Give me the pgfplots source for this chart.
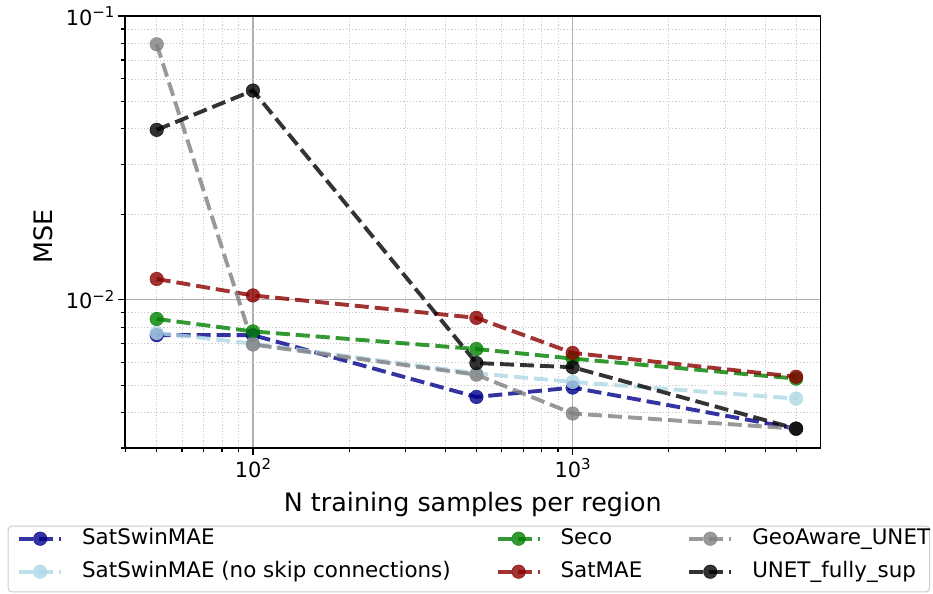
\documentclass[border=0pt]{standalone}
\usepackage{fontspec}
\setmainfont{DejaVu Sans}
\usepackage{pgfplots}
\pgfplotsset{compat=1.18}
\definecolor{cdb}{HTML}{00008B}
\definecolor{clb}{HTML}{ADD8E6}
\definecolor{cgr}{HTML}{008000}
\definecolor{cdr}{HTML}{8B0000}
\definecolor{cgy}{HTML}{808080}
\definecolor{cbk}{HTML}{000000}
\definecolor{gridmaj}{HTML}{B0B0B0}
\definecolor{legframe}{HTML}{CCCCCC}
\pgfplotsset{
  ser/.style={color=#1, opacity=0.8, line width=3.9bp, dash pattern=on 14bp off 6bp,
    mark=*, mark size=6.8bp, mark options={solid, fill=#1, draw=#1, line width=0.5bp}},
}
\newcommand{\tl}[1]{10\raisebox{7.5bp}{\fontsize{15}{18}\selectfont #1}}
\begin{document}
\begin{tikzpicture}
\begin{axis}[
  name=ax,
  xmode=log, ymode=log,
  width=695.7bp, height=432bp, scale only axis,
  xmin=39.8, xmax=5970, ymin=0.003, ymax=0.1,
  xtick={100,1000}, ytick={0.01,0.1},
  xticklabels={\tl{2},\tl{3}},
  yticklabels={\tl{−2},\tl{−1}},
  minor xtick={40,50,60,70,80,90,200,300,400,500,600,700,800,900,2000,3000,4000,5000},
  minor ytick={0.003,0.004,0.005,0.006,0.007,0.008,0.009,0.02,0.03,0.04,0.05,0.06,0.07,0.08,0.09},
  grid=both,
  major grid style={color=gridmaj, line width=1.2bp},
  minor grid style={color=gray!40, line width=0.8bp, dash pattern=on 1.2bp off 2bp},
  tick align=outside, tick pos=left,
  major tick length=7bp, minor tick length=4bp,
  every tick/.style={black, line width=1.1bp},
  axis line style={line width=1.2bp},
  tick label style={font=\fontsize{21}{24}\selectfont},
  xlabel={N training samples per region},
  ylabel={MSE},
  every axis x label/.style={at={(axis description cs:0.5,-0.1474)}, anchor=base, font=\fontsize{25.5}{30}\selectfont},
  every axis y label/.style={at={(axis description cs:-0.1035,0.49)}, rotate=90, anchor=base, font=\fontsize{25.5}{30}\selectfont},
  clip=false,
  legend columns=3,
  legend cell align=left,
  legend style={draw=none, fill=none, at={(axis description cs:-0.1552,-0.1852)}, anchor=north west,
    inner sep=0pt, font=\fontsize{21.5}{25}\selectfont, row sep=12bp,
    /tikz/every odd column/.style={column sep=19bp},
    /tikz/every even column/.style={column sep=45bp},
    nodes={inner xsep=0pt, inner ysep=0pt, text height=16bp, text depth=5bp}},
  legend image code/.code={\draw[mark repeat=2,mark phase=2] plot coordinates {(0bp,0bp) (21bp,0bp) (42bp,0bp)};},
]
\draw[color=legframe, line width=1bp, rounded corners=4bp, fill=white]
  (axis description cs:-0.1681,-0.1806) rectangle (axis description cs:1.1566,-0.3333);

% SatSwinMAE
\addplot[ser=cdb, forget plot] coordinates {(50,0.0075) (100,0.0075) (500,0.00454) (1000,0.0049) (5000,0.00351)};
% SatSwinMAE (no skip connections)
\addplot[ser=clb, forget plot] coordinates {(50,0.00764) (100,0.0070) (500,0.0055) (1000,0.00513) (5000,0.00448)};
% Seco
\addplot[ser=cgr, forget plot] coordinates {(50,0.00855) (100,0.00773) (500,0.0067) (1000,0.0062) (5000,0.00527)};
% SatMAE
\addplot[ser=cdr, forget plot] coordinates {(50,0.01183) (100,0.01035) (500,0.00863) (1000,0.00649) (5000,0.00535)};
% GeoAware_UNET
\addplot[ser=cgy, forget plot] coordinates {(50,0.0795) (100,0.00695) (500,0.00544) (1000,0.00397) (5000,0.00351)};
% UNET_fully_sup
\addplot[ser=cbk, forget plot] coordinates {(50,0.0397) (100,0.0546) (500,0.00598) (1000,0.00578) (5000,0.00351)};

\addlegendimage{ser=cdb}
\addlegendentry{SatSwinMAE}
\addlegendimage{ser=cgr}
\addlegendentry{Seco}
\addlegendimage{ser=cgy}
\addlegendentry{GeoAware\_UNET}
\addlegendimage{ser=clb}
\addlegendentry{SatSwinMAE (no skip connections)}
\addlegendimage{ser=cdr}
\addlegendentry{SatMAE}
\addlegendimage{ser=cbk}
\addlegendentry{UNET\_fully\_sup}
\end{axis}
\path (ax.south west) ++(-125bp,-146bp) rectangle ++(933bp,594bp);
\end{tikzpicture}
\end{document}
